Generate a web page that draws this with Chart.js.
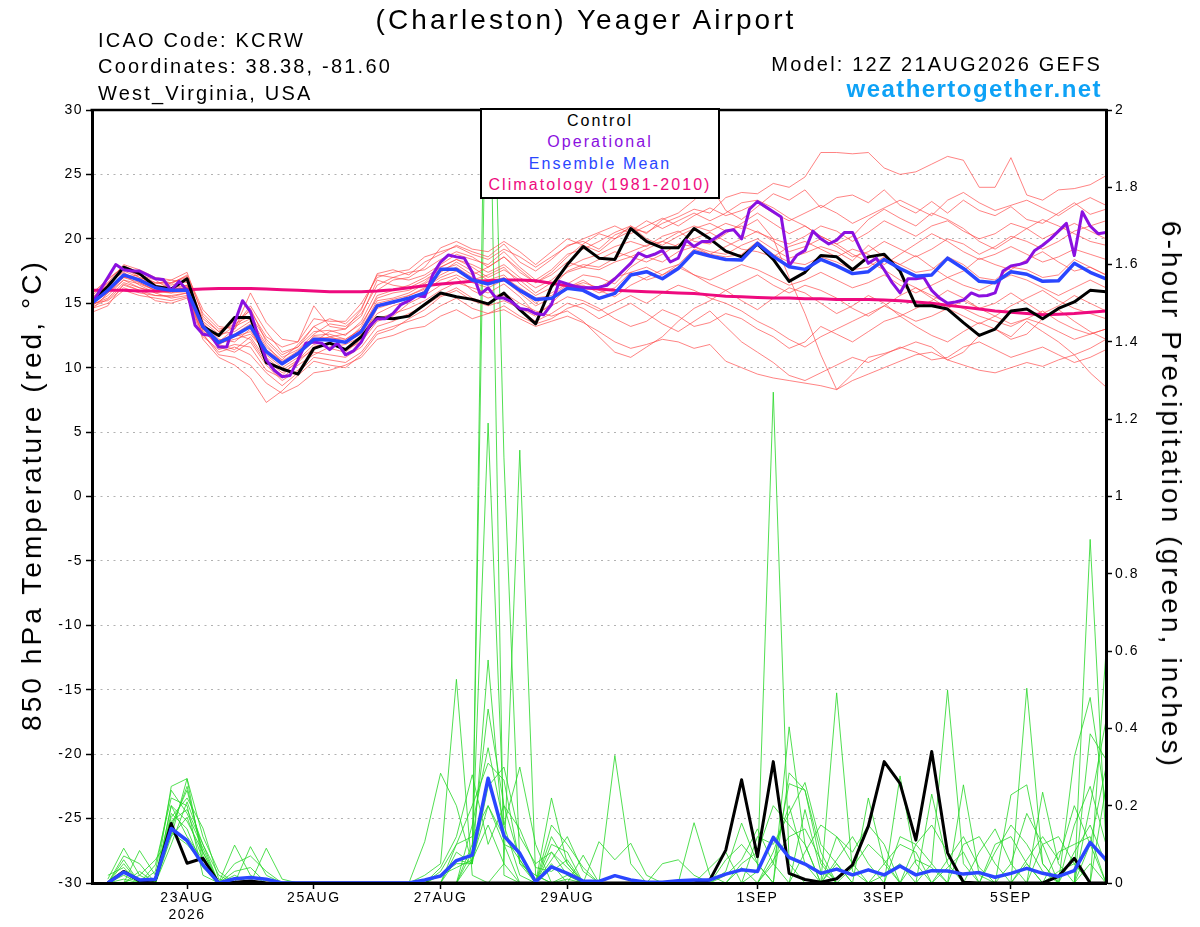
<!DOCTYPE html>
<html>
<head>
<meta charset="utf-8">
<title>(Charleston) Yeager Airport</title>
<script src="https://cdn.jsdelivr.net/npm/chart.js@4.4.1/dist/chart.umd.min.js"></script>
<style>
  html, body { margin: 0; padding: 0; background: #fff; }
  #wrap { position: relative; width: 1200px; height: 927px; overflow: hidden;
          font-family: "Liberation Sans", Arial, Helvetica, sans-serif; }
  #chart { position: absolute; left: 0; top: 0; }
  .txt { position: absolute; line-height: 1; white-space: nowrap; letter-spacing: 0.11em; color: #000; }
  #title { left: 586px; top: 6px; font-size: 28px; transform: translateX(-50%); }
  .info { left: 98px; font-size: 20px; }
  #model { right: 98px; top: 54px; font-size: 20px; }
  #site { right: 98px; top: 77px; font-size: 24px; font-weight: bold; color: #0ea2f6; letter-spacing: 0.06em; }
  #legend { position: absolute; left: 480px; top: 108px; width: 240px; height: 91px; box-sizing: border-box;
            border: 2px solid #000; background: #fff; text-align: center; font-size: 16px;
            line-height: 21.3px; letter-spacing: 0.13em; }
  .axtitle { position: absolute; font-size: 28px; line-height: 28px; white-space: nowrap; letter-spacing: 0.11em; }
  #ytl { left: 32px; top: 495px; transform: translate(-50%, -50%) rotate(-90deg); }
  #ytr { left: 1171px; top: 495px; transform: translate(-50%, -50%) rotate(90deg); }
</style>
</head>
<body>
<div id="wrap">
  <canvas id="chart" width="1200" height="927"></canvas>
  <div class="txt" id="title">(Charleston) Yeager Airport</div>
  <div class="txt info" style="top:30px">ICAO Code: KCRW</div>
  <div class="txt info" style="top:56px">Coordinates: 38.38, -81.60</div>
  <div class="txt info" style="top:83px">West_Virginia, USA</div>
  <div class="txt" id="model">Model: 12Z 21AUG2026 GEFS</div>
  <div class="txt" id="site">weathertogether.net</div>
  <div id="legend">
    <div style="color:#000">Control</div>
    <div style="color:#8a10e0">Operational</div>
    <div style="color:#2a46ff">Ensemble Mean</div>
    <div style="color:#ee0a7e">Climatology (1981-2010)</div>
  </div>
  <div class="axtitle" id="ytl">850 hPa Temperature (red, °C)</div>
  <div class="axtitle" id="ytr">6-hour Precipitation (green, inches)</div>
</div>
<script>
// time axis: 6-hourly steps from 12Z 21AUG2026 (step 0) to 12Z 6SEP (step 64)
const xTickPos = [6, 14, 22, 30, 42, 50, 58];
const xTickLabels = [['23AUG', '2026'], '25AUG', '27AUG', '29AUG', '1SEP', '3SEP', '5SEP'];

// 850 hPa temperature, 6-hourly
const controlTemp = [
  15.1, 16.3, 17.8, 17.3, 16.3, 16.1, 16.9, 13.2, 12.5, 13.9,
  13.9, 10.4, 9.9, 9.5, 11.5, 11.9, 11.4, 12.4, 13.9, 13.8,
  14.0, 14.9, 15.8, 15.5, 15.3, 14.95, 15.8, 14.5, 13.4, 16.3,
  18.0, 19.4, 18.5, 18.4, 20.8, 19.8, 19.3, 19.3, 20.8, 20.0,
  19.05, 18.6, 19.6, 18.4, 16.7, 17.4, 18.7, 18.6, 17.6, 18.6,
  18.8, 17.5, 14.8, 14.8, 14.55, 13.5, 12.5, 13.0, 14.4, 14.55,
  13.8, 14.6, 15.1, 16.0, 15.9
];
const meanTemp = [
  15.0, 16.0, 17.2, 16.8, 16.2, 16.0, 16.0, 13.2, 11.95, 12.5,
  13.2, 11.25, 10.3, 11.1, 12.2, 12.15, 11.97, 12.8, 14.8, 15.1,
  15.4, 15.8, 17.63, 17.63, 16.8, 16.5, 16.85, 16.0, 15.3, 15.38,
  16.16, 16.0, 15.38, 15.77, 17.19, 17.45, 16.9, 17.7, 19.0, 18.67,
  18.4, 18.36, 19.65, 18.64, 17.84, 17.63, 18.4, 17.9, 17.3, 17.45,
  18.4, 17.7, 17.1, 17.2, 18.5, 17.7, 16.7, 16.6, 17.45, 17.25,
  16.7, 16.75, 18.1, 17.4, 16.9
];
const climoTemp = [
  16.0, 16.0, 16.0, 15.95, 15.95, 16.0, 16.05, 16.1, 16.15, 16.15,
  16.15, 16.1, 16.05, 16.0, 15.95, 15.9, 15.9, 15.9, 15.95, 16.05,
  16.2, 16.35, 16.5, 16.6, 16.7, 16.75, 16.8, 16.8, 16.75, 16.55,
  16.35, 16.2, 16.1, 16.0, 15.95, 15.9, 15.85, 15.8, 15.75, 15.65,
  15.55, 15.5, 15.45, 15.4, 15.4, 15.35, 15.35, 15.3, 15.3, 15.3,
  15.25, 15.2, 15.1, 15.0, 14.85, 14.7, 14.55, 14.4, 14.3, 14.2,
  14.1, 14.15, 14.2, 14.3, 14.4
];
// operational run is 3-hourly (129 values)
const operTemp = [
  15.0, 16.0, 17.0, 18.0, 17.6, 17.5, 17.5, 17.2, 16.9, 16.85,
  16.0, 16.7, 16.0, 13.3, 12.6, 12.5, 11.6, 11.6, 13.5, 15.2,
  14.35, 12.4, 10.6, 9.8, 9.3, 9.4, 10.6, 11.9, 12.0, 11.9,
  11.4, 11.9, 11.0, 11.3, 12.0, 13.2, 13.8, 13.8, 14.2, 14.9,
  15.2, 15.6, 15.5, 17.2, 18.2, 18.75, 18.6, 18.5, 17.4, 15.7,
  16.2, 15.4, 15.4, 15.1, 14.6, 14.5, 14.2, 14.1, 14.9, 16.7,
  16.5, 16.3, 16.2, 16.2, 16.25, 16.4, 16.9, 17.5, 18.1, 18.9,
  18.6, 18.8, 19.1, 18.2, 18.5, 19.9, 19.4, 19.8, 19.8, 20.2,
  20.6, 20.7, 20.0, 22.3, 22.9, 22.5, 22.1, 21.7, 17.9, 18.75,
  19.1, 20.6, 20.0, 19.6, 19.9, 20.5, 20.5, 19.2, 18.1, 18.5,
  17.6, 16.6, 15.8, 16.9, 16.9, 17.0, 16.0, 15.4, 15.0, 15.1,
  15.25, 15.8, 15.56, 15.6, 15.8, 17.5, 17.9, 18.0, 18.2, 19.1,
  19.5, 20.0, 20.6, 21.2, 18.7, 22.1, 21.0, 20.4, 20.5
];

// ensemble members, temperature
const tMem01 = [15.8, 16.8, 17.9, 17.4, 16.9, 16.5, 17.2, 14.5, 13.2, 13.0, 15.8, 13.5, 12.2, 12.0, 14.8, 13.2, 13.0, 14.5, 17.3, 17.6, 17.2, 18.2,
  18.8, 19.5, 19.0, 18.6, 19.6, 18.2, 17.5, 18.4, 19.5, 19.8, 19.2, 20.3, 20.8, 20.5, 21.2, 21.7, 22.3, 22.0, 23.2, 23.6,
  23.5, 24.3, 24.0, 24.8, 26.7, 26.7, 26.6, 26.7, 25.5, 25.0, 25.2, 25.8, 26.4, 26.1, 24.0, 24.0, 26.3, 23.4, 23.0, 23.8, 23.9, 24.2, 24.9];
const tMem02 = [15.2, 16.5, 17.5, 17.0, 16.5, 16.8, 16.6, 13.8, 12.8, 13.4, 14.0, 12.2, 11.0, 11.6, 12.8, 12.9, 12.5, 13.6, 16.0, 16.8, 17.0, 17.8,
  19.3, 19.8, 19.2, 19.0, 19.8, 19.0, 18.0, 19.0, 20.0, 19.5, 19.0, 20.0, 21.0, 20.4, 21.5, 22.0, 23.0, 24.2, 22.2, 21.5,
  22.5, 23.5, 23.0, 23.8, 22.4, 23.2, 23.4, 22.8, 23.8, 22.6, 22.0, 22.9, 22.0, 23.0, 22.2, 21.8, 22.5, 21.5, 21.2, 22.0, 22.8, 21.9, 22.3];
const tMem03 = [14.3, 14.8, 16.5, 16.0, 15.2, 15.0, 15.4, 12.6, 11.0, 10.8, 10.2, 8.8, 8.0, 8.6, 9.6, 9.8, 10.2, 10.8, 12.2, 12.5, 13.0, 13.2,
  14.0, 14.5, 13.8, 14.2, 14.5, 13.8, 13.2, 13.6, 14.0, 13.5, 12.8, 12.0, 11.5, 11.8, 12.2, 12.0, 11.5, 11.8, 10.5, 10.0,
  9.5, 9.2, 9.0, 8.8, 8.6, 8.3, 9.0, 9.5, 10.0, 10.5, 11.0, 11.2, 10.6, 10.2, 9.8, 9.6, 10.0, 10.4, 10.1, 10.6, 11.0, 9.6, 8.5];
const tMem04 = [15.5, 16.2, 17.0, 16.9, 16.4, 16.2, 16.4, 13.5, 12.2, 12.0, 13.0, 10.8, 9.8, 10.6, 11.8, 11.5, 11.2, 12.2, 14.6, 15.0, 15.6, 16.2,
  17.0, 17.5, 16.8, 17.2, 17.8, 16.5, 15.6, 16.2, 17.5, 18.0, 17.8, 18.5, 19.0, 19.5, 19.8, 20.5, 21.0, 20.6, 21.2, 20.8,
  21.5, 20.0, 17.0, 14.2, 11.0, 8.3, 9.5, 10.8, 11.1, 11.5, 12.0, 11.6, 10.6, 11.2, 12.5, 13.0, 12.4, 13.6, 12.8, 12.0, 11.0, 11.5, 12.2];
const tMem05 = [14.8, 15.6, 16.8, 16.5, 16.0, 15.8, 15.9, 12.8, 11.8, 12.4, 12.8, 11.0, 10.0, 10.8, 12.5, 12.6, 12.2, 13.0, 15.2, 15.4, 15.8, 16.5,
  17.4, 18.2, 17.5, 16.8, 17.2, 16.0, 15.0, 15.8, 16.5, 17.2, 17.0, 16.5, 17.8, 18.6, 18.2, 19.0, 19.4, 19.0, 18.8, 19.5,
  20.0, 19.2, 18.5, 18.9, 19.4, 19.0, 18.3, 19.5, 18.6, 18.0, 18.7, 17.8, 17.0, 17.5, 18.5, 18.0, 17.6, 18.4, 19.0, 18.2, 17.5, 17.8, 17.2];
const tMem06 = [15.0, 15.2, 16.2, 15.8, 15.6, 15.6, 15.8, 12.4, 11.4, 11.8, 11.6, 9.8, 9.2, 10.2, 11.0, 11.6, 11.8, 12.4, 13.8, 14.2, 14.6, 15.2,
  16.0, 16.6, 16.2, 15.8, 16.5, 15.5, 14.2, 14.8, 15.5, 15.2, 14.6, 13.8, 13.2, 13.6, 14.5, 14.0, 13.2, 13.5, 14.2, 13.8,
  13.0, 12.4, 11.5, 12.0, 13.2, 12.6, 12.0, 12.8, 13.6, 14.0, 13.2, 12.5, 12.0, 12.8, 13.5, 13.0, 12.2, 12.6, 13.8, 14.5, 13.6, 12.8, 12.2];
const tMem07 = [15.4, 16.4, 17.6, 17.2, 16.6, 16.4, 16.8, 13.0, 12.0, 13.0, 14.6, 12.0, 10.8, 11.4, 12.6, 13.4, 13.2, 14.2, 16.4, 17.0, 16.8, 17.2,
  18.0, 18.8, 18.4, 18.0, 19.0, 17.8, 16.8, 17.6, 18.8, 19.2, 19.8, 20.5, 21.0, 20.0, 19.5, 20.2, 20.8, 21.2, 20.6, 21.0,
  20.5, 20.0, 19.6, 20.2, 21.0, 20.6, 19.8, 20.5, 21.4, 20.8, 20.2, 21.0, 21.4, 20.6, 20.0, 20.4, 21.2, 20.8, 20.0, 20.6, 21.2, 20.6, 20.0];
const tMem08 = [14.6, 15.0, 16.0, 15.6, 15.4, 15.2, 15.5, 12.2, 10.8, 10.2, 9.2, 7.3, 8.2, 9.4, 10.5, 10.2, 10.0, 11.0, 12.6, 13.0, 13.8, 14.5,
  15.5, 16.0, 15.2, 14.8, 15.2, 14.6, 14.0, 15.0, 16.2, 16.8, 16.0, 15.5, 16.4, 17.0, 17.6, 18.0, 17.2, 16.5, 16.0, 15.2,
  14.5, 15.4, 16.2, 15.8, 15.0, 14.2, 14.8, 15.6, 15.0, 14.0, 14.6, 15.2, 16.0, 15.4, 14.6, 15.0, 15.8, 15.0, 14.2, 14.8, 15.6, 15.0, 14.4];
const tMem09 = [15.6, 16.6, 17.4, 16.6, 16.0, 16.6, 17.0, 13.6, 12.6, 12.8, 13.6, 11.6, 10.6, 11.8, 13.2, 12.4, 12.0, 13.2, 15.6, 16.0, 16.4, 17.0,
  17.8, 18.4, 18.0, 17.4, 18.0, 17.0, 16.2, 16.8, 17.8, 18.4, 18.8, 19.4, 19.8, 19.4, 20.2, 20.6, 19.8, 19.6, 20.4, 21.2,
  22.0, 21.2, 20.4, 21.0, 20.2, 19.6, 20.2, 21.5, 22.3, 21.6, 21.0, 22.0, 21.5, 20.8, 19.8, 19.2, 20.0, 20.8, 21.5, 21.0, 20.4, 19.8, 19.5];
const tMem10 = [14.9, 15.4, 16.6, 16.2, 15.8, 15.4, 15.6, 12.9, 11.6, 11.2, 12.0, 10.2, 9.0, 9.8, 11.2, 11.0, 10.8, 11.6, 13.2, 13.6, 14.2, 14.8,
  15.6, 16.2, 15.4, 15.0, 15.6, 14.4, 13.6, 14.2, 15.0, 14.6, 13.8, 14.4, 15.0, 14.2, 13.4, 12.8, 13.6, 14.4, 13.2, 12.0,
  11.2, 10.4, 9.4, 9.0, 9.6, 10.2, 10.8, 10.4, 11.0, 11.6, 11.2, 10.6, 10.8, 11.6, 12.0, 11.4, 10.8, 11.2, 11.6, 11.0, 10.4, 10.8, 11.4];
const tMem11 = [15.2, 16.0, 17.0, 17.2, 16.8, 16.0, 16.2, 13.4, 12.4, 13.2, 13.8, 11.8, 10.4, 11.2, 12.0, 12.8, 13.0, 14.0, 16.8, 16.4, 16.2, 16.8,
  17.6, 18.0, 17.2, 17.8, 18.6, 17.6, 16.6, 17.2, 18.2, 17.8, 18.4, 19.0, 18.6, 19.2, 19.8, 19.4, 20.0, 20.5, 19.8, 19.2,
  19.0, 18.6, 19.4, 19.8, 19.2, 18.6, 19.2, 18.8, 18.0, 18.8, 19.6, 20.4, 19.8, 19.0, 18.4, 18.8, 19.4, 18.8, 18.2, 18.6, 19.2, 18.8, 18.4];
const tMem12 = [14.5, 15.8, 16.8, 16.2, 15.9, 15.8, 16.2, 13.0, 11.8, 11.4, 12.4, 10.6, 9.6, 10.4, 11.6, 11.8, 12.0, 12.6, 14.2, 14.8, 15.2, 16.0,
  16.8, 17.2, 16.6, 16.2, 16.8, 15.8, 14.8, 15.4, 16.2, 16.6, 16.2, 17.0, 17.4, 16.8, 17.2, 17.8, 17.2, 16.8, 17.4, 18.0,
  17.6, 17.0, 16.4, 16.8, 17.4, 16.8, 16.2, 16.6, 17.2, 16.4, 15.8, 16.4, 17.0, 16.4, 16.0, 16.6, 17.2, 16.8, 16.2, 15.6, 16.2, 16.8, 16.2];
const tMem13 = [15.0, 16.2, 17.2, 16.4, 15.8, 16.0, 16.4, 13.2, 12.0, 12.6, 12.2, 10.4, 9.4, 10.6, 11.4, 12.0, 11.4, 12.0, 13.6, 14.0, 15.0, 15.6,
  16.4, 17.0, 16.0, 15.4, 15.8, 15.0, 14.4, 14.0, 14.4, 13.6, 12.4, 11.2, 10.8, 11.6, 12.4, 13.6, 14.6, 15.2, 16.0, 16.6,
  17.2, 16.4, 15.8, 16.4, 16.0, 15.4, 14.6, 14.0, 14.8, 15.6, 16.2, 15.4, 14.6, 14.0, 13.4, 14.0, 14.8, 15.4, 16.0, 15.2, 14.6, 14.2, 13.8];
const tMem14 = [15.3, 16.6, 18.0, 17.6, 17.0, 16.8, 17.4, 14.0, 12.8, 13.6, 14.4, 12.4, 11.6, 12.0, 13.8, 13.6, 13.6, 15.0, 17.0, 17.4, 17.6, 18.6,
  19.0, 19.4, 18.8, 18.4, 19.2, 18.6, 17.8, 18.6, 19.4, 20.0, 20.5, 21.0, 20.4, 21.0, 21.6, 21.0, 21.8, 22.4, 21.8, 22.2,
  22.8, 22.0, 21.4, 22.0, 22.6, 22.0, 21.2, 21.8, 22.4, 23.0, 22.4, 21.8, 23.0, 23.6, 22.8, 22.2, 22.6, 23.0, 22.4, 21.8, 22.6, 23.2, 22.6];
const tMem15 = [15.1, 16.1, 17.3, 16.9, 16.3, 16.2, 16.1, 13.4, 12.1, 12.6, 13.4, 11.4, 10.5, 11.3, 12.4, 12.3, 12.2, 13.0, 15.0, 15.3, 15.6, 16.1,
  17.2, 17.8, 17.0, 16.6, 17.0, 16.2, 15.4, 15.6, 16.4, 16.4, 15.8, 16.2, 17.4, 17.8, 17.2, 18.0, 19.2, 18.8, 18.6, 18.8,
  19.8, 18.8, 18.2, 18.0, 18.6, 18.2, 17.6, 17.8, 18.6, 18.0, 17.4, 17.6, 18.6, 18.0, 17.0, 16.8, 17.8, 17.6, 17.0, 17.2, 18.4, 17.8, 17.2];
const tMem16 = [14.7, 15.3, 16.4, 16.0, 15.6, 15.5, 15.8, 12.6, 11.2, 11.6, 11.0, 9.6, 8.6, 9.6, 10.8, 10.6, 10.4, 11.2, 12.8, 13.2, 13.6, 14.0,
  14.8, 15.4, 14.6, 14.2, 14.8, 14.0, 13.4, 13.8, 14.6, 15.0, 14.4, 15.0, 15.6, 15.0, 15.8, 16.4, 16.0, 15.4, 15.0, 14.4,
  13.6, 13.0, 12.2, 11.6, 12.4, 13.0, 13.6, 14.2, 14.8, 14.2, 13.6, 14.0, 14.6, 15.2, 14.6, 14.0, 13.4, 13.8, 14.4, 13.6, 13.0, 12.6, 13.0];
const tMem17 = [15.7, 16.9, 17.8, 17.0, 16.6, 16.6, 17.1, 14.2, 13.0, 13.2, 14.8, 12.8, 11.2, 11.6, 13.2, 13.8, 13.4, 14.6, 17.2, 17.0, 17.4, 17.6,
  18.4, 19.0, 18.6, 17.8, 18.6, 17.4, 16.6, 17.4, 18.6, 19.6, 20.4, 20.0, 20.6, 21.4, 20.8, 21.4, 22.0, 21.4, 22.0, 22.8,
  23.0, 22.4, 21.6, 21.0, 20.2, 19.6, 18.8, 18.2, 17.6, 16.8, 16.2, 15.6, 15.0, 14.6, 14.0, 13.6, 13.2, 13.8, 13.4, 12.8, 12.2, 12.6, 13.0];
const tMem18 = [15.0, 15.8, 17.0, 16.6, 16.0, 15.9, 16.3, 13.0, 11.9, 12.2, 12.6, 11.2, 10.2, 11.0, 12.0, 12.4, 12.6, 13.4, 15.4, 15.8, 16.0, 16.6,
  17.8, 18.4, 17.8, 17.0, 17.6, 16.8, 15.8, 16.6, 17.4, 17.8, 17.6, 18.2, 18.6, 18.2, 18.8, 19.6, 19.4, 18.8, 19.4, 20.0,
  20.6, 19.8, 19.0, 19.4, 20.0, 19.4, 18.6, 19.0, 19.8, 19.2, 18.6, 19.2, 20.0, 19.6, 18.8, 19.4, 20.2, 19.8, 19.2, 19.8, 20.6, 21.0, 21.4];
const tempMembers = [tMem01, tMem02, tMem03, tMem04, tMem05, tMem06, tMem07, tMem08, tMem09,
  tMem10, tMem11, tMem12, tMem13, tMem14, tMem15, tMem16, tMem17, tMem18];

// 6-hour precipitation (inches); step 0 has no accumulation
const controlPrecip = [
  null, 0, 0.03, 0.005, 0.008, 0.154, 0.051, 0.064, 0, 0.002,
  0.005, 0, 0, 0, 0, 0, 0, 0, 0, 0,
  0, 0, 0, 0, 0, 0, 0, 0, 0, 0,
  0, 0, 0, 0, 0, 0, 0, 0, 0, 0.008,
  0.085, 0.267, 0.068, 0.314, 0.025, 0.009, 0.002, 0.011, 0.047, 0.147,
  0.314, 0.258, 0.111, 0.34, 0.078, 0.002, 0, 0, 0, 0,
  0, 0.017, 0.064, 0, 0
];
const meanPrecip = [
  null, 0, 0.028, 0.008, 0.01, 0.141, 0.11, 0.047, 0, 0.011,
  0.014, 0.01, 0, 0, 0, 0, 0, 0, 0, 0,
  0, 0.008, 0.018, 0.058, 0.072, 0.271, 0.122, 0.077, 0.003, 0.042,
  0.025, 0.005, 0.004, 0.019, 0.008, 0.002, 0.002, 0.006, 0.008, 0.008,
  0.023, 0.034, 0.03, 0.118, 0.066, 0.049, 0.025, 0.036, 0.021, 0.034,
  0.021, 0.044, 0.021, 0.032, 0.031, 0.023, 0.027, 0.015, 0.025, 0.038,
  0.025, 0.017, 0.032, 0.105, 0.06
];
const pMem01 = [null,0,.02,0,0,.25,.27,.05,0,0, 0,0,0,0,0,0,0,0,0,0, 0,0,.02,.05,.05,2.4,.02,0,0,.05,
  0,0,0,.33,.05,0,0,0,0,0, 0,0,.03,1.27,.05,0,0,0,0,0, .02,.05,0,0,0,0,0,0,0,.05, 0,0,0,.05,0];
const pMem02 = [null,.01,.09,.02,0,.2,.16,.08,0,.02, 0,0,0,0,0,0,0,0,0,0, 0,0,0,.08,.05,2.7,1.1,.05,0,0,
  .02,0,0,0,0,0,0,0,.156,.02, 0,0,0,0,.404,.1,0,.05,0,0, 0,0,0,.05,.499,.05,0,0,0,0, 0,.03,.05,0,0];
const pMem03 = [null,0,0,.084,.02,.17,.22,.142,.01,0, 0,0,0,0,0,0,0,0,0,0, 0,0,0,0,.08,1.19,.15,.02,0,.22,
  .05,0,0,0,0,0,0,0,0,0, .03,.155,.05,0,0,0,0,.492,.03,0, 0,0,0,0,0,0,0,0,0,.504, .05,0,0,.889,.1];
const pMem04 = [null,0,.05,0,0,.13,.1,.05,0,.098, .02,0,0,0,0,0,0,0,0,0, 0,0,0,0,0,0,.05,1.12,.02,0,
  0,.072,0,0,0,0,0,0,0,0, 0,0,0,0,.285,.24,.05,0,0,.22, .05,0,0,0,0,.254,.02,0,0,0, 0,0,.327,.48,.2];
const pMem05 = [null,0,0,0,.047,.22,.2,.02,0,0, .094,.02,0,0,0,0,0,0,0,0, 0,.02,.05,.527,.02,0,0,0,0,.1,
  .08,0,0,0,0,0,0,0,0,0, 0,0,0,.05,.257,.24,.08,0,0,0, 0,.277,.05,0,0,0,0,0,.228,.254, .05,0,0,.386,.32];
const pMem06 = [null,0,0,0,0,.15,.24,.08,0,0, 0,.09,.01,0,0,0,0,0,0,0, 0,.107,.284,.2,.05,.577,.1,0,0,0,
  .01,0,0,0,0,0,0,0,0,0, 0,0,0,0,0,.19,.03,0,0,0, 0,0,0,.23,.05,0,0,0,0,0, .235,.05,0,0,.6];
const pMem07 = [null,0,.03,0,0,.18,.14,.04,0,0, 0,0,0,0,0,0,0,0,0,0, 0,0,0,.1,.2,.31,.266,.05,.02,0,
  0,0,0,0,0,0,.05,.06,.02,0, 0,0,0,0,0,0,0,.12,.08,.15, .1,0,0,0,0,0,0,.1,.12,.05, 0,0,.15,.25,.1];
const pMem08 = [null,0,0,.03,0,.1,.21,.1,.02,0, 0,0,0,0,0,0,0,0,0,0, 0,0,.03,.1,.12,.2,.1,.08,0,.12,
  .05,0,.107,.06,.103,.02,0,0,0,0, 0,.05,.08,.2,.15,.1,0,0,0,0, 0,0,.1,.15,.08,0,0,0,0,0, 0,.08,.1,.12,0];
const pMem09 = [null,0,.06,0,.03,.24,.18,.09,0,0, 0,0,0,0,0,0,0,0,0,0, 0,0,0,0,.1,.45,.2,.06,0,.15,
  .1,.04,0,0,0,0,0,0,0,0, 0,0,.12,.1,.18,.26,.1,.05,0,0, 0,0,0,0,0,.1,.12,.05,0,0, .1,.12,.05,0,0];
const pMem10 = [null,.02,.04,0,0,.2,.12,.06,0,.05, .07,.03,0,0,0,0,0,0,0,0, 0,0,0,.06,.05,.25,.3,.12,.05,.08,
  .04,0,0,0,0,0,0,0,0,0, 0,0,0,0,0,.08,.15,.12,.05,0, 0,.12,.1,.05,0,0,0,0,.05,.18, .1,0,0,.2,.42];
const pMem11 = [null,0,0,0,0,.12,.27,.12,.03,0, 0,0,0,0,0,0,0,0,0,0, 0,0,0,0,.15,.35,.15,.3,.1,0,
  0,0,0,0,0,0,0,0,0,0, .06,.1,.05,0,0,0,0,0,.04,.1, .06,0,0,0,.06,.12,.04,0,0,0, 0,0,.08,.15,.05];
const pMem12 = [null,0,.07,.05,0,.14,.25,.07,0,0, 0,0,0,0,0,0,0,0,0,0, 0,0,.02,.04,.06,.15,.05,0,0,.06,
  .12,.03,0,0,0,0,0,0,0,.04, .08,0,0,.06,.12,.14,.06,0,0,0, .05,.1,.08,0,0,0,0,.08,.15,.1, .03,0,0,0,.25];
const pMem13 = [null,0,.01,0,0,.16,.19,.1,0,0, 0,0,0,0,0,0,0,0,0,0, 0,0,.04,.12,.28,.1,.2,.14,.04,.03,
  .06,0,0,0,0,0,0,0,0,0, 0,.04,0,.08,.2,.05,0,0,0,0, 0,0,.06,.04,0,0,.08,.14,.05,0, 0,0,0,.1,.3];
const pMem14 = [null,0,0,.02,.06,.12,.17,.06,0,.03, .04,0,0,0,0,0,0,0,0,0, 0,0,0,0,.06,.2,.12,.06,0,.08,
  .02,0,0,0,0,0,0,0,0,0, .02,.06,.14,.05,0,0,0,.06,.12,.05, 0,0,0,0,.04,.08,0,0,0,.06, .12,.06,.2,.1,0];
const precipMembers = [pMem01, pMem02, pMem03, pMem04, pMem05, pMem06, pMem07,
  pMem08, pMem09, pMem10, pMem11, pMem12, pMem13, pMem14];

const sixHourly = arr => arr.map((v, i) => ({ x: i, y: v }));
const threeHourly = arr => arr.map((v, j) => ({ x: j / 2, y: v }));

const datasets = [];
precipMembers.forEach(m => datasets.push({
  data: sixHourly(m), yAxisID: 'yP', borderColor: 'rgba(40, 215, 40, 0.9)', borderWidth: 0.9, order: 20
}));
tempMembers.forEach(m => datasets.push({
  data: sixHourly(m), yAxisID: 'yT', borderColor: 'rgba(255, 70, 70, 0.75)', borderWidth: 0.9, order: 10
}));
datasets.push({ data: sixHourly(climoTemp), yAxisID: 'yT', borderColor: '#ee0a7e', borderWidth: 3, order: 4 });
datasets.push({ data: sixHourly(controlTemp), yAxisID: 'yT', borderColor: '#000000', borderWidth: 3, order: 3 });
datasets.push({ data: sixHourly(controlPrecip), yAxisID: 'yP', borderColor: '#000000', borderWidth: 3, order: 3 });
datasets.push({ data: threeHourly(operTemp), yAxisID: 'yT', borderColor: '#8a10e0', borderWidth: 3, order: 2 });
datasets.push({ data: sixHourly(meanTemp), yAxisID: 'yT', borderColor: '#2a46ff', borderWidth: 3.5, order: 1 });
datasets.push({ data: sixHourly(meanPrecip), yAxisID: 'yP', borderColor: '#2a46ff', borderWidth: 3.5, order: 1 });

const frame = {
  id: 'frame',
  beforeDraw(chart) { chart.ctx.letterSpacing = '1.5px'; },
  afterDraw(chart) {
    const { ctx, chartArea: a } = chart;
    ctx.save();
    ctx.strokeStyle = '#000';
    ctx.lineWidth = 2.5;
    ctx.beginPath();
    ctx.moveTo(a.left - 1.5, a.top);
    ctx.lineTo(a.right + 1.5, a.top);
    ctx.stroke();
    ctx.restore();
  }
};

Chart.defaults.font.family = '"Liberation Sans", Arial, Helvetica, sans-serif';
Chart.defaults.color = '#000';

new Chart(document.getElementById('chart'), {
  type: 'line',
  data: { datasets },
  plugins: [frame],
  options: {
    responsive: false,
    animation: false,
    events: [],
    layout: { padding: { top: 110, left: 0, right: 0, bottom: 0 } },
    plugins: { legend: { display: false }, tooltip: { enabled: false } },
    elements: {
      point: { radius: 0 },
      line: { tension: 0, fill: false, borderJoinStyle: 'round' }
    },
    scales: {
      x: {
        type: 'linear', min: 0, max: 64,
        afterBuildTicks: s => { s.ticks = xTickPos.map(v => ({ value: v })); },
        afterFit: s => { s.height = 44; },
        ticks: {
          autoSkip: false, maxRotation: 0, padding: 1, font: { size: 14 },
          callback: v => xTickLabels[xTickPos.indexOf(v)]
        },
        grid: { drawOnChartArea: false, tickLength: 6, tickColor: '#000', tickWidth: 1.5 },
        border: { color: '#000', width: 3, z: 1 }
      },
      yT: {
        position: 'left', min: -30, max: 30,
        afterFit: s => { s.width = 92; },
        ticks: { stepSize: 5, padding: 3, font: { size: 14 } },
        grid: {
          color: c => (c.tick && Math.abs(c.tick.value) === 30) ? 'rgba(0,0,0,0)' : '#b2b2b2',
          lineWidth: 1, tickLength: 6, tickColor: '#000', tickWidth: 1.5
        },
        border: { color: '#000', width: 3, dash: [2, 4.5], z: 1 }
      },
      yP: {
        position: 'right', min: 0, max: 2,
        afterFit: s => { s.width = 94; },
        ticks: { stepSize: 0.2, padding: 3, font: { size: 14 }, callback: v => String(Math.round(v * 10) / 10) },
        grid: { drawOnChartArea: false, tickLength: 6, tickColor: '#000', tickWidth: 1.5 },
        border: { color: '#000', width: 3, z: 1 }
      }
    }
  }
});
</script>
</body>
</html>
